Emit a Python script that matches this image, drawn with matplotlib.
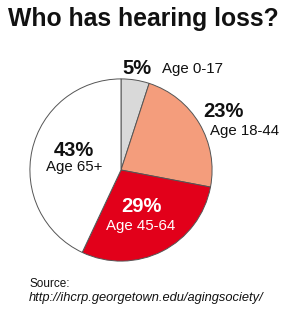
import matplotlib
matplotlib.use("Agg")
import matplotlib.pyplot as plt

plt.rcParams['font.family'] = ['Liberation Sans', 'DejaVu Sans']

# data
groups = ['Age 0-17', 'Age 18-44', 'Age 45-64', 'Age 65+']
shares = [5, 23, 29, 43]
colors = ['#d9d9d9', '#f49d7c', '#e2001a', '#ffffff']
text_colors = ['#111111', '#111111', '#ffffff', '#111111']

W, H = 286, 309
fig = plt.figure(figsize=(W / 100, H / 100), dpi=100)
fig.patch.set_facecolor('white')

def px(x, y):
    return x / W, 1 - y / H

# pie: centre (121, 170), radius 92 px
cx, cy, r = 121, 170, 92
ax = fig.add_axes([(cx - r) / W, (H - cy - r) / H, 2 * r / W, 2 * r / H])
ax.pie(shares, colors=colors, startangle=90, counterclock=False,
       wedgeprops=dict(edgecolor='#555555', linewidth=0.7))
ax.set_xlim(-1.01, 1.01)
ax.set_ylim(-1.01, 1.01)
ax.set_aspect('equal')
ax.axis('off')

# label spots, same order as the shares
pct_pos = [(122, 69), (203, 111), (141, 206), (74, 150)]
grp_pos = [(162, 69), (210, 131), (141, 226), (74, 167)]
pct_ha = ['left', 'left', 'center', 'center']
grp_ha = ['left', 'left', 'center', 'center']

for i in range(len(shares)):
    fig.text(*px(*pct_pos[i]), f"{shares[i]}%", ha=pct_ha[i], va='center',
             fontsize=14.5, fontweight='bold', color=text_colors[i])
    fig.text(*px(*grp_pos[i]), groups[i], ha=grp_ha[i], va='center',
             fontsize=10.8, color=text_colors[i])

fig.text(*px(143, 19), 'Who has hearing loss?', ha='center', va='center',
         fontsize=17.8, fontweight='bold', color='#111111')

fig.text(*px(29, 284), 'Source:', ha='left', va='center', fontsize=8.5,
         color='#111111')
fig.text(*px(29, 298), 'http://ihcrp.georgetown.edu/agingsociety/', ha='left',
         va='center', fontsize=9.3, style='italic', color='#111111')

fig.savefig('out.png', dpi=100, facecolor='white')
